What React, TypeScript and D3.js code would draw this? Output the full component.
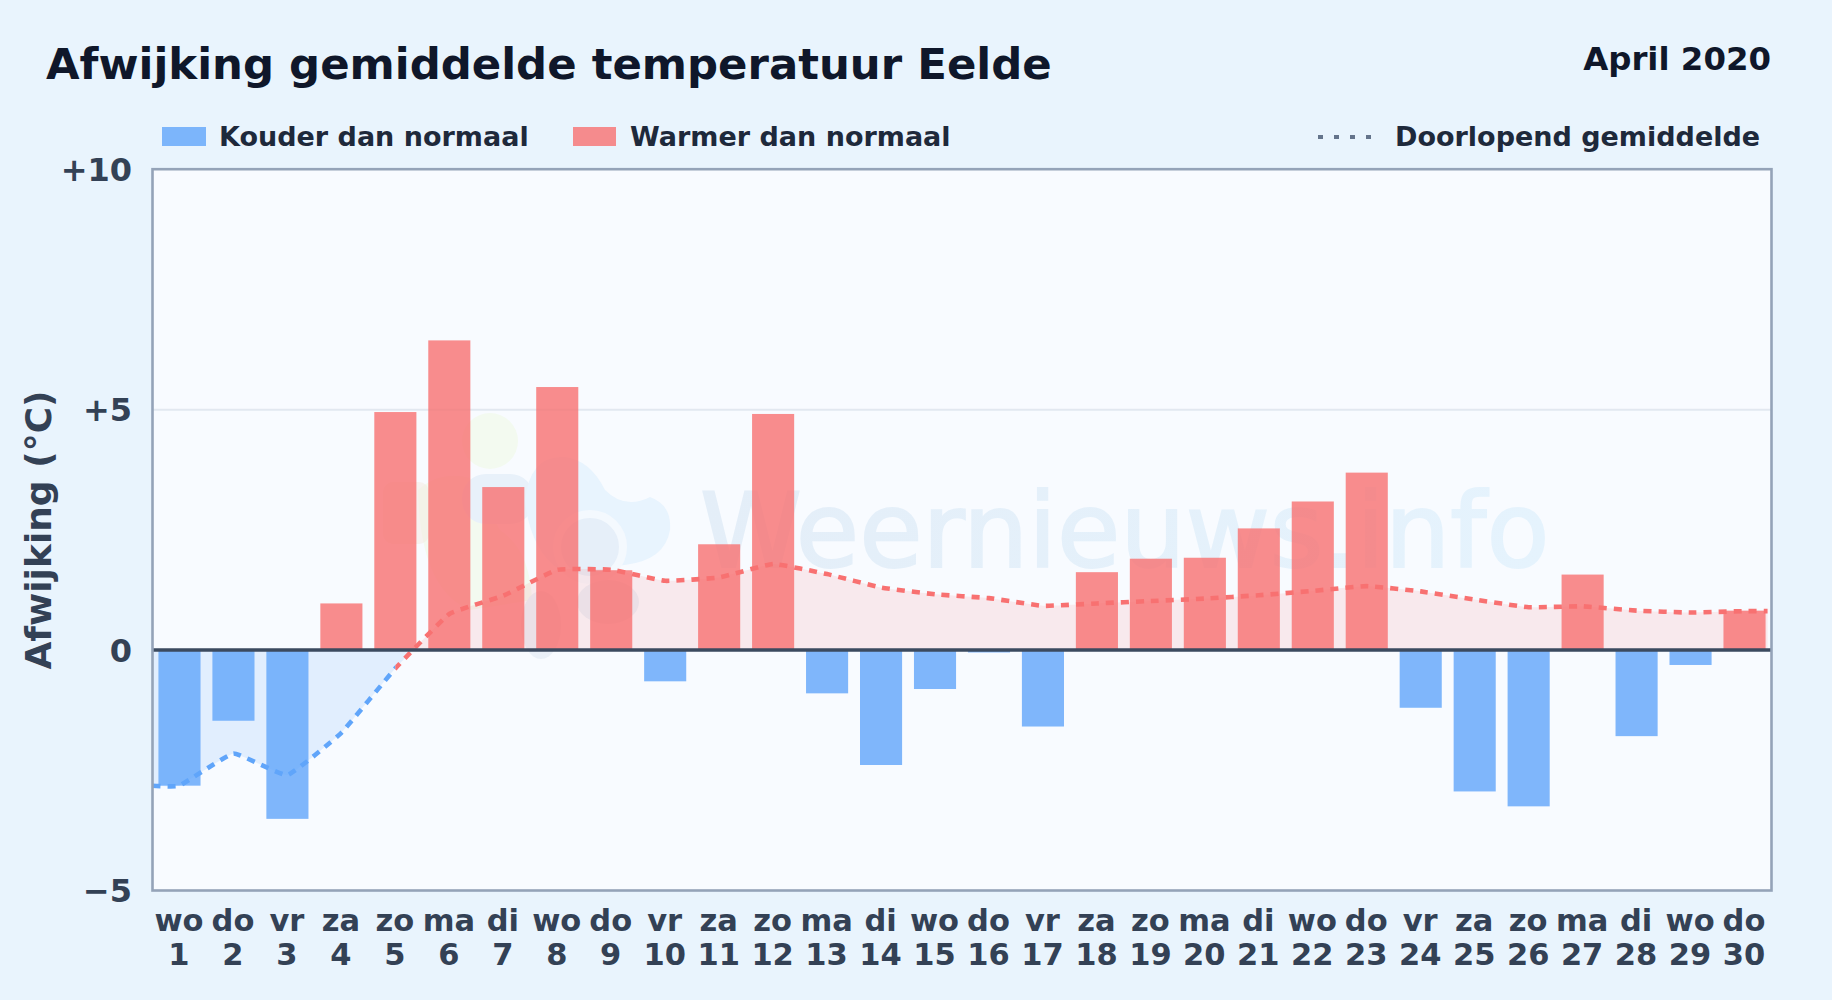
import React from "react";
import * as d3 from "d3";

const weekdays = ["wo","do","vr","za","zo","ma","di","wo","do","vr","za","zo","ma","di","wo","do","vr","za","zo","ma","di","wo","do","vr","za","zo","ma","di","wo","do"];
const days = [1,2,3,4,5,6,7,8,9,10,11,12,13,14,15,16,17,18,19,20,21,22,23,24,25,26,27,28,29,30];
const deviation = [-2.82,-1.47,-3.51,0.97,4.95,6.44,3.39,5.47,1.66,-0.65,2.2,4.91,-0.9,-2.39,-0.81,-0.05,-1.59,1.62,1.9,1.92,2.53,3.09,3.69,-1.2,-2.94,-3.25,1.57,-1.79,-0.31,0.82];
const runningMean = [-2.82,-2.15,-2.6,-1.72,-0.38,0.75,1.13,1.67,1.67,1.44,1.51,1.79,1.58,1.3,1.16,1.08,0.92,0.97,1.02,1.07,1.14,1.23,1.33,1.22,1.05,0.89,0.91,0.82,0.78,0.81];
const yTicks = [10, 5, 0, -5];
const yTickLabels = ["+10", "+5", "0", "−5"];

const FONT = "'DejaVu Sans', sans-serif";
const W = 1832, H = 1000;
const left = 152.5, right = 1771.5, top = 169.2, bottom = 890.5;

const x = d3.scaleBand<number>().domain(days).range([left, right]).paddingInner(0.22).paddingOuter(0.11);
const y = d3.scaleLinear().domain([-5, 10]).range([bottom, top]);
const cx = (d: number) => (x(d) as number) + x.bandwidth() / 2;

const pts: [number, number][] = [
  [left, runningMean[0]],
  ...days.map((d, i) => [cx(d), runningMean[i]] as [number, number]),
  [cx(30) + x.bandwidth() / 2 + 2, runningMean[runningMean.length - 1]],
];
const curve = d3.curveCardinal.tension(0.7);
const linePath = d3.line<[number, number]>().x(p => p[0]).y(p => y(p[1])).curve(curve)(pts) as string;
const areaPath = d3.area<[number, number]>().x(p => p[0]).y0(y(0)).y1(p => y(p[1])).curve(curve)(pts) as string;
const splitX = cx(5);

export default function App() {
  return (
    <svg width={W} height={H} viewBox={`0 0 ${W} ${H}`} style={{ position: "fixed", left: 0, top: 0, display: "block" }} fontFamily={FONT}>
      <defs>
        <clipPath id="plot"><rect x={left} y={top} width={right - left} height={bottom - top} /></clipPath>
        <clipPath id="above"><rect x={left} y={top} width={right - left} height={y(0) - top} /></clipPath>
        <clipPath id="below"><rect x={left} y={y(0)} width={right - left} height={bottom - y(0)} /></clipPath>
        <clipPath id="lineBlue"><rect x={left} y={top} width={splitX - left} height={bottom - top} /></clipPath>
        <clipPath id="lineRed"><rect x={splitX} y={top} width={right - splitX} height={bottom - top} /></clipPath>
        <linearGradient id="wm" x1="0" x2="1" y1="0" y2="0">
          <stop offset="0" stopColor="#e4eef8" />
          <stop offset="1" stopColor="#e5f3fd" />
        </linearGradient>
      </defs>

      <rect width={W} height={H} fill="#e9f4fd" />
      <rect x={left} y={top} width={right - left} height={bottom - top} fill="#f8fbff" />

      {/* watermark */}
      <g clipPath="url(#plot)">
        <ellipse cx={490} cy={441} rx={28} ry={28} fill="#f3faf0" />
        <path d="M418 490 Q440 470 470 478 L500 530 Q530 550 532 600 L470 610 Q420 590 418 490Z" fill="#f3faf0" />
        <rect x={462} y={474} width={72} height={50} rx={24} fill="#e8f1fa" />
        <rect x={383} y={482} width={46} height={62} rx={10} fill="#f3e9e0" opacity={0.5} />
        <path d="M525 500 Q530 455 565 457 Q590 460 605 490 Q625 510 650 497 Q672 505 670 530 Q665 560 625 565 L560 570 Q530 550 525 500Z" fill="#e8f4fe" />
        <circle cx={590} cy={547} r={33} fill="#e6eff9" stroke="#f4f9fe" strokeWidth={8} />
        <ellipse cx={608} cy={602} rx={31} ry={22} fill="#eaf0f8" />
        <ellipse cx={541} cy={625} rx={20} ry={34} fill="#eaf0f8" />
        <text x={700} y={566.5} fontSize={103} fill="url(#wm)" stroke="url(#wm)" strokeWidth={2}>Weernieuws.info</text>
      </g>

      {/* grid */}
      <line x1={left} x2={right} y1={y(5)} y2={y(5)} stroke="#e2e8f0" strokeWidth={2} />

      {/* running mean fill */}
      <g clipPath="url(#above)"><path d={areaPath} fill="#f87171" fillOpacity={0.13} /></g>
      <g clipPath="url(#below)"><path d={areaPath} fill="#60a5fa" fillOpacity={0.15} /></g>

      {/* bars */}
      {days.map((d, i) => {
        const v = deviation[i];
        return (
          <rect key={d} x={x(d)} width={x.bandwidth()} y={y(Math.max(v, 0))} height={Math.abs(y(v) - y(0))}
            fill={v < 0 ? "#60a5fa" : "#f87171"} fillOpacity={0.8} />
        );
      })}

      {/* running mean line */}
      <g clipPath="url(#lineBlue)">
        <path d={linePath} fill="none" stroke="#60a5fa" strokeWidth={4.6} strokeDasharray="8 7" />
      </g>
      <g clipPath="url(#lineRed)">
        <path d={linePath} fill="none" stroke="#f87171" strokeWidth={4.6} strokeDasharray="8 7" />
      </g>

      {/* zero line and frame */}
      <line x1={left} x2={right} y1={y(0)} y2={y(0)} stroke="#3b4a5f" strokeWidth={3.4} />
      <rect x={left} y={top} width={right - left} height={bottom - top} fill="none" stroke="#94a3b8" strokeWidth={2.6} />

      {/* y axis */}
      {yTicks.map((t, i) => (
        <text key={t} x={132} y={y(t) + 11.5} textAnchor="end" fontSize={32} fontWeight={700} fill="#334155">{yTickLabels[i]}</text>
      ))}
      <text transform="translate(51,530) rotate(-90)" textAnchor="middle" fontSize={36} fontWeight={700} fill="#334155">Afwijking (°C)</text>

      {/* x axis */}
      {days.map((d, i) => (
        <g key={d} textAnchor="middle" fontSize={30.5} fontWeight={700} fill="#334155">
          <text x={cx(d) - 0.5} y={931}>{weekdays[i]}</text>
          <text x={cx(d) - 0.5} y={965}>{d}</text>
        </g>
      ))}

      {/* title */}
      <text x={46} y={78.5} fontSize={43.4} fontWeight={700} fill="#0f172a">Afwijking gemiddelde temperatuur Eelde</text>
      <text x={1771} y={70} textAnchor="end" fontSize={32.4} fontWeight={700} fill="#0f172a">April 2020</text>

      {/* legend */}
      <rect x={162} y={127} width={44} height={19} fill="#60a5fa" fillOpacity={0.8} />
      <text x={219} y={146} fontSize={27} fontWeight={700} fill="#1e293b">Kouder dan normaal</text>
      <rect x={573} y={127} width={43} height={19} fill="#f87171" fillOpacity={0.8} />
      <text x={630} y={146} fontSize={27} fontWeight={700} fill="#1e293b">Warmer dan normaal</text>
      <line x1={1318} x2={1373} y1={137} y2={137} stroke="#64748b" strokeWidth={4} strokeDasharray="5 11" />
      <text x={1395} y={146} fontSize={27} fontWeight={700} fill="#1e293b">Doorlopend gemiddelde</text>
    </svg>
  );
}
